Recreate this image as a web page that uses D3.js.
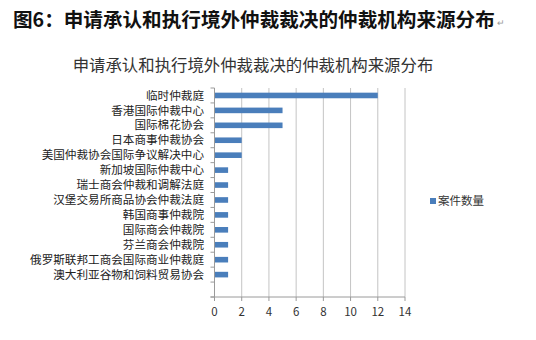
<!DOCTYPE html>
<html>
<head>
<meta charset="utf-8">
<script src="https://cdn.jsdelivr.net/npm/d3@7"></script>
<style>
  body { margin: 0; background: #fff; }
  svg { display: block; font-family: "Noto Sans CJK SC", "Noto Sans", sans-serif; }
</style>
</head>
<body>
<svg id="chart" width="536" height="340"></svg>
<script>
// institutions, top to bottom
const labels = ["临时仲裁庭", "香港国际仲裁中心", "国际棉花协会", "日本商事仲裁协会",
  "美国仲裁协会国际争议解决中心", "新加坡国际仲裁中心", "瑞士商会仲裁和调解法庭",
  "汉堡交易所商品协会仲裁法庭", "韩国商事仲裁院", "国际商会仲裁院", "芬兰商会仲裁院",
  "俄罗斯联邦工商会国际商业仲裁庭", "澳大利亚谷物和饲料贸易协会"];
const counts = [12, 5, 5, 2, 2, 1, 1, 1, 1, 1, 1, 1, 1];
const xTicks = [0, 2, 4, 6, 8, 10, 12, 14];
const seriesName = "案件数量";

let svg = d3.select("#chart");

let plot = {left: 214.5, right: 405, top: 88, bottom: 297};

let x = d3.scaleLinear().domain([0, 14]).range([plot.left, plot.right]);
// excel leaves one empty slot below the last category
let y = d3.scaleBand().domain(labels.concat([""])).range([plot.top, plot.bottom]);
let barH = 5.6;

// header line above the chart
svg.append("text")
  .attr("x", 13).attr("y", 27)
  .style("font-size", "19.6px").style("font-weight", "bold").style("fill", "#111")
  .text("图6：申请承认和执行境外仲裁裁决的仲裁机构来源分布");
svg.append("text")
  .attr("x", 497).attr("y", 26)
  .style("font-size", "9px").style("fill", "#999")
  .text("↵");

// chart title
svg.append("text")
  .attr("x", 253).attr("y", 71)
  .attr("text-anchor", "middle")
  .style("font-size", "16.4px").style("fill", "#333")
  .text("申请承认和执行境外仲裁裁决的仲裁机构来源分布");

// gridlines
svg.append("g")
  .selectAll("line")
  .data(xTicks.slice(1))
  .join("line")
  .attr("x1", d => x(d)).attr("x2", d => x(d))
  .attr("y1", plot.top).attr("y2", plot.bottom)
  .style("stroke", "#c4c4c4").style("stroke-width", 1);

// bars
svg.append("g")
  .selectAll("rect")
  .data(labels)
  .join("rect")
  .attr("x", x(0))
  .attr("y", d => y(d) + (y.step() - barH) / 2)
  .attr("width", (d, i) => x(counts[i]) - x(0))
  .attr("height", barH)
  .style("fill", "#4a7ebb");

// category axis
let yAxis = svg.append("g");
yAxis.append("line")
  .attr("x1", plot.left).attr("x2", plot.left)
  .attr("y1", plot.top).attr("y2", plot.bottom)
  .style("stroke", "#9a9a9a");
yAxis.selectAll(".tk")
  .data(d3.range(15))
  .join("line")
  .attr("class", "tk")
  .attr("x1", plot.left - 4).attr("x2", plot.left)
  .attr("y1", i => plot.top + i * y.step()).attr("y2", i => plot.top + i * y.step())
  .style("stroke", "#9a9a9a");
yAxis.selectAll("text")
  .data(labels)
  .join("text")
  .attr("x", 204)
  .attr("y", d => y(d) + y.step() / 2)
  .attr("dy", "0.36em")
  .attr("text-anchor", "end")
  .style("font-size", "11.6px").style("fill", "#222")
  .text(d => d);

// value axis
let xAxis = svg.append("g");
xAxis.append("line")
  .attr("x1", plot.left - 4).attr("x2", plot.right)
  .attr("y1", plot.bottom).attr("y2", plot.bottom)
  .style("stroke", "#9a9a9a");
xAxis.selectAll(".tk")
  .data(xTicks)
  .join("line")
  .attr("class", "tk")
  .attr("x1", d => x(d)).attr("x2", d => x(d))
  .attr("y1", plot.bottom).attr("y2", plot.bottom + 4)
  .style("stroke", "#9a9a9a");
xAxis.selectAll("text")
  .data(xTicks)
  .join("text")
  .attr("x", d => x(d))
  .attr("y", 316)
  .attr("text-anchor", "middle")
  .style("font-size", "11.5px").style("fill", "#333")
  .text(d => d);

// legend
svg.append("rect")
  .attr("x", 430).attr("y", 198).attr("width", 6).attr("height", 6)
  .style("fill", "#4a7ebb");
svg.append("text")
  .attr("x", 438).attr("y", 201)
  .attr("dy", "0.36em")
  .style("font-size", "11.5px").style("fill", "#333")
  .text(seriesName);
</script>
</body>
</html>
